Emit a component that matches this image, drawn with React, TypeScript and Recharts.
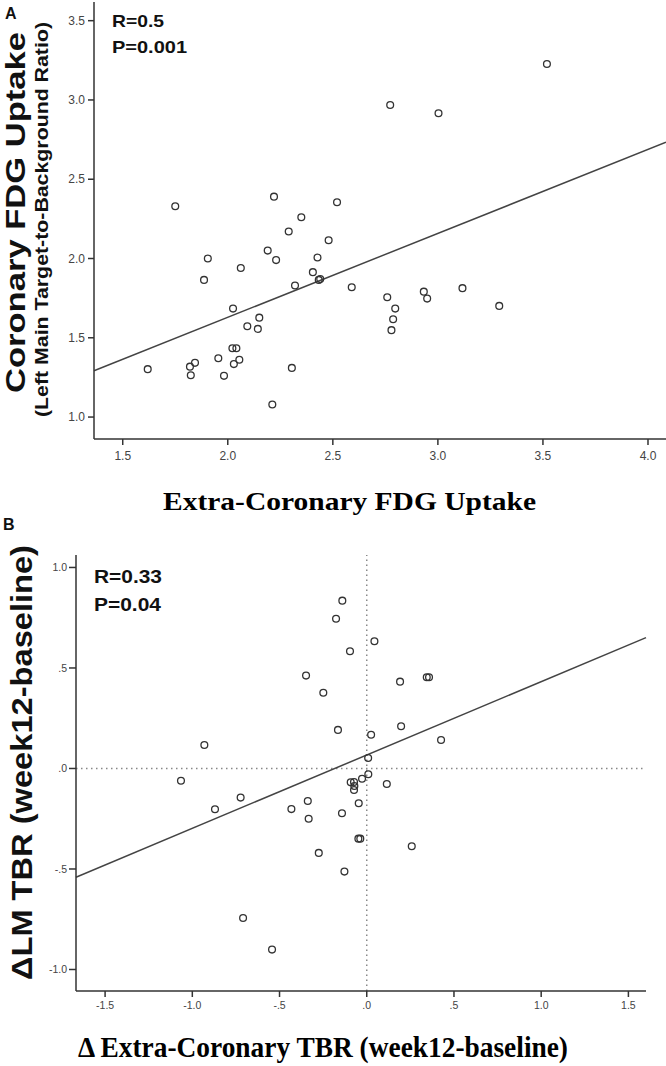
import React from "react";
import {
  ReferenceLine,
  Scatter,
  ScatterChart,
  XAxis,
  YAxis,
} from "recharts";

// Panel A: extra-coronary vs coronary FDG uptake
const aExtra = [
  1.75, 2.22, 2.35, 2.29, 2.52, 2.48, 2.19, 1.905, 1.887, 2.062, 2.23, 2.427,
  2.405, 2.433, 2.44, 2.32, 2.025, 2.15, 2.093, 2.143, 2.022, 2.041, 1.955,
  2.055, 2.029, 1.844, 1.82, 1.824, 1.982, 1.619, 2.305, 2.212, 2.59, 2.759,
  2.797, 2.787, 2.779, 2.933, 2.949, 3.117, 3.292, 2.773, 3.003, 3.519,
];
const aCoronary = [
  2.33, 2.39, 2.26, 2.17, 2.355, 2.115, 2.05, 2.0, 1.865, 1.94, 1.99, 2.006,
  1.914, 1.865, 1.87, 1.83, 1.684, 1.627, 1.573, 1.556, 1.434, 1.434, 1.371,
  1.361, 1.334, 1.342, 1.318, 1.264, 1.26, 1.302, 1.31, 1.079, 1.819, 1.756,
  1.684, 1.617, 1.548, 1.791, 1.747, 1.813, 1.701, 2.968, 2.916, 3.227,
];
const aFitX = [1.3633, 4.0857];
const aFitY = [1.292, 2.733];
const aTicksX = [1.5, 2.0, 2.5, 3.0, 3.5, 4.0];
const aTicksY = [1.0, 1.5, 2.0, 2.5, 3.0, 3.5];

// Panel B: change from baseline to week 12
const bExtra = [
  -0.931, -0.348, -0.249, -0.165, -0.176, -0.14, -0.096, 0.044, 0.191, 0.344,
  0.357, 0.025, 0.197, 0.426, 0.008, 0.009, -1.065, -0.87, -0.723, -0.432,
  -0.338, -0.333, -0.275, -0.709, -0.543, -0.142, -0.128, -0.092, -0.073,
  -0.071, -0.073, -0.027, -0.046, -0.048, -0.037, 0.115, 0.258,
];
const bLm = [
  0.117, 0.462, 0.377, 0.192, 0.745, 0.835, 0.583, 0.633, 0.432, 0.454, 0.454,
  0.168, 0.21, 0.142, 0.052, -0.029, -0.061, -0.203, -0.145, -0.202, -0.162,
  -0.25, -0.42, -0.744, -0.901, -0.223, -0.513, -0.069, -0.067, -0.087,
  -0.107, -0.051, -0.173, -0.349, -0.349, -0.077, -0.387,
];
const bFitX = [-1.6668, 1.6009];
const bFitY = [-0.541, 0.651];
const bTicksX = [-1.5, -1.0, -0.5, 0, 0.5, 1.0, 1.5];
const bTickLabelsX = ["-1.5", "-1.0", "-.5", ".0", ".5", "1.0", "1.5"];
const bTicksY = [-1.0, -0.5, 0, 0.5, 1.0];
const bTickLabelsY = ["-1.0", "-.5", ".0", ".5", "1.0"];

const pointsA = aExtra.map((x, i) => ({ x, y: aCoronary[i] }));
const pointsB = bExtra.map((x, i) => ({ x, y: bLm[i] }));

const SANS = "'Liberation Sans', Arial, sans-serif";
const SERIF = "'Liberation Serif', 'Times New Roman', serif";
const INK = "#333";

const axisLine = { stroke: INK, strokeWidth: 1.5 };

const OpenCircle = (props: any) => (
  <circle
    cx={props.cx}
    cy={props.cy}
    r={3.4}
    fill="none"
    stroke={INK}
    strokeWidth={1.3}
  />
);

function PanelA() {
  return (
    <ScatterChart
      width={666}
      height={500}
      margin={{ top: 2, right: 0, bottom: 0, left: 0 }}
    >
      <XAxis
        type="number"
        dataKey="x"
        domain={[aFitX[0], aFitX[1]]}
        ticks={aTicksX}
        allowDataOverflow
        height={61}
        tickFormatter={(v: number) => v.toFixed(1)}
        axisLine={axisLine}
        tickLine={axisLine}
        tickSize={6}
        tickMargin={6}
        tick={{ fill: "#444", fontSize: 12, fontFamily: SANS }}
      />
      <YAxis
        type="number"
        dataKey="y"
        domain={[0.8616, 3.6178]}
        ticks={aTicksY}
        allowDataOverflow
        width={94}
        tickFormatter={(v: number) => v.toFixed(1)}
        axisLine={axisLine}
        tickLine={axisLine}
        tickSize={6}
        tickMargin={3}
        tick={{ fill: "#444", fontSize: 12, fontFamily: SANS }}
      />
      <ReferenceLine
        segment={[
          { x: aFitX[0], y: aFitY[0] },
          { x: aFitX[1], y: aFitY[1] },
        ]}
        stroke="#444"
        strokeWidth={1.5}
        ifOverflow="visible"
      />
      <Scatter data={pointsA} shape={OpenCircle} isAnimationActive={false} />
    </ScatterChart>
  );
}

function PanelB() {
  return (
    <ScatterChart
      width={666}
      height={521}
      margin={{ top: 25, right: 20, bottom: 0, left: 0 }}
    >
      <XAxis
        type="number"
        dataKey="x"
        domain={[bFitX[0], bFitX[1]]}
        ticks={bTicksX}
        allowDataOverflow
        height={60}
        tickFormatter={(v: number) => bTickLabelsX[bTicksX.indexOf(v)]}
        axisLine={axisLine}
        tickLine={axisLine}
        tickSize={6}
        tickMargin={5}
        tick={{ fill: "#444", fontSize: 10.5, fontFamily: SANS }}
      />
      <YAxis
        type="number"
        dataKey="y"
        domain={[-1.107, 1.062]}
        ticks={bTicksY}
        allowDataOverflow
        width={76}
        tickFormatter={(v: number) => bTickLabelsY[bTicksY.indexOf(v)]}
        axisLine={axisLine}
        tickLine={axisLine}
        tickSize={7}
        tickMargin={2}
        tick={{ fill: "#444", fontSize: 10.5, fontFamily: SANS }}
      />
      <ReferenceLine
        x={0}
        stroke="#888"
        strokeWidth={1.5}
        strokeDasharray="1.5 3.5"
      />
      <ReferenceLine
        y={0}
        stroke="#888"
        strokeWidth={1.5}
        strokeDasharray="1.5 3.5"
      />
      <ReferenceLine
        segment={[
          { x: bFitX[0], y: bFitY[0] },
          { x: bFitX[1], y: bFitY[1] },
        ]}
        stroke="#444"
        strokeWidth={1.5}
        ifOverflow="visible"
      />
      <Scatter data={pointsB} shape={OpenCircle} isAnimationActive={false} />
    </ScatterChart>
  );
}

function Labels() {
  return (
    <svg
      width={666}
      height={1066}
      style={{ position: "absolute", left: 0, top: 0, pointerEvents: "none" }}
    >
      <g fontFamily={SANS} fontWeight="bold" fill="#111">
        <text x={5} y={19} fontSize={16}>A</text>
        <text x={3} y={530} fontSize={16}>B</text>

        <text
          transform="translate(25,212.5) rotate(-90)"
          textAnchor="middle"
          fontSize={27}
          textLength={361}
          lengthAdjust="spacingAndGlyphs"
        >
          Coronary FDG Uptake
        </text>
        <text
          transform="translate(48,219.5) rotate(-90)"
          textAnchor="middle"
          fontSize={18}
          textLength={395}
          lengthAdjust="spacingAndGlyphs"
        >
          (Left Main Target-to-Background Ratio)
        </text>
        <text
          transform="translate(32,762.5) rotate(-90)"
          textAnchor="middle"
          fontSize={30}
          textLength={435}
          lengthAdjust="spacingAndGlyphs"
        >
          ΔLM TBR (week12-baseline)
        </text>

        <text x={112} y={27} fontSize={17} textLength={52} lengthAdjust="spacingAndGlyphs">
          R=0.5
        </text>
        <text x={112} y={53} fontSize={17} textLength={75} lengthAdjust="spacingAndGlyphs">
          P=0.001
        </text>
        <text x={94} y={583} fontSize={17.5} textLength={68} lengthAdjust="spacingAndGlyphs">
          R=0.33
        </text>
        <text x={94} y={611} fontSize={17.5} textLength={67} lengthAdjust="spacingAndGlyphs">
          P=0.04
        </text>
      </g>
      <g fontFamily={SERIF} fontWeight="bold" fill="#000">
        <text
          x={349.5}
          y={510}
          textAnchor="middle"
          fontSize={25}
          textLength={373}
          lengthAdjust="spacingAndGlyphs"
        >
          Extra-Coronary FDG Uptake
        </text>
        <text
          x={323}
          y={1057}
          textAnchor="middle"
          fontSize={29}
          textLength={490}
          lengthAdjust="spacingAndGlyphs"
        >
          Δ Extra-Coronary TBR (week12-baseline)
        </text>
      </g>
    </svg>
  );
}

export default function App() {
  return (
    <div
      style={{
        position: "absolute",
        left: 0,
        top: 0,
        width: 666,
        height: 1066,
        background: "#fff",
      }}
    >
      <div style={{ position: "absolute", left: 0, top: 0 }}>
        <PanelA />
      </div>
      <div style={{ position: "absolute", left: 0, top: 530 }}>
        <PanelB />
      </div>
      <Labels />
    </div>
  );
}
